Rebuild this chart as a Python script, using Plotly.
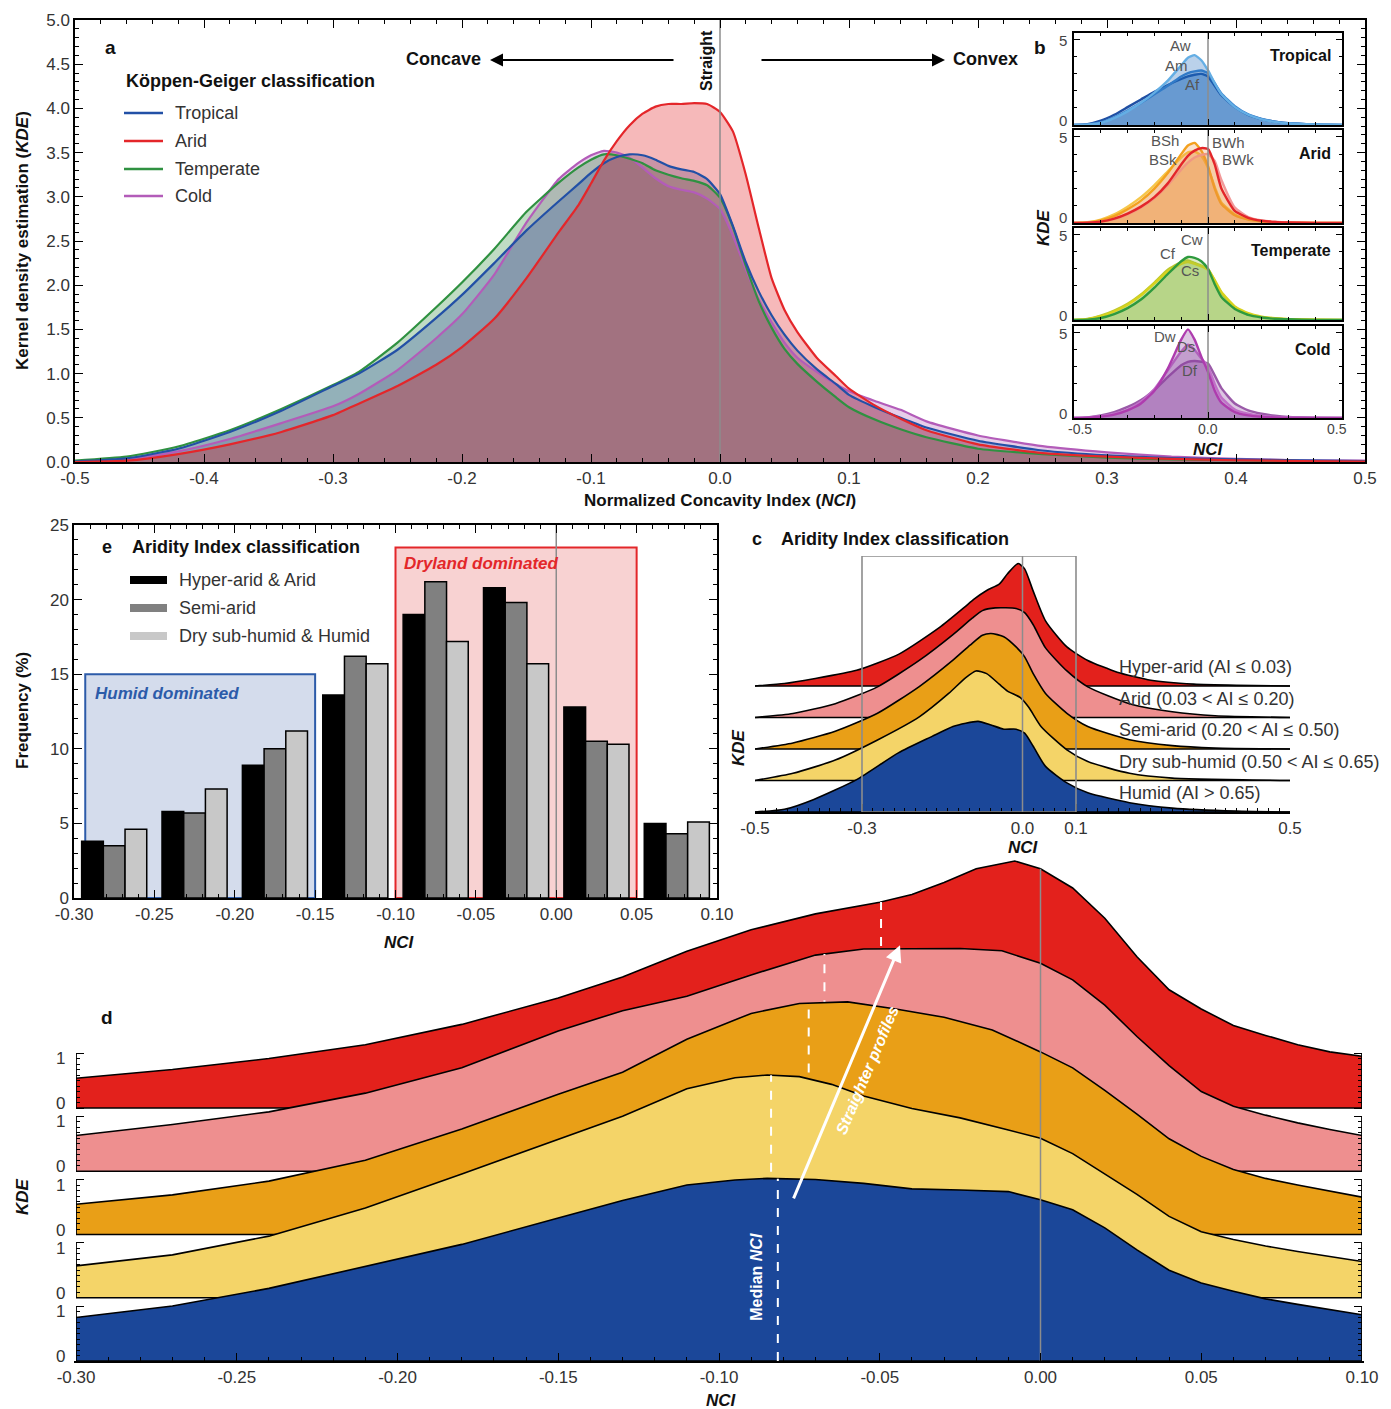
import numpy as np
import plotly.graph_objects as go

W, H = 1391, 1409
FONT = "Arial"
TXT = "#333333"
ZERO_GRAY = "#8c8c8c"


def fx(p):
    """horizontal pixel -> paper coordinate"""
    return p / W


def fy(p):
    """vertical pixel (from the top) -> paper coordinate"""
    return 1 - p / H


def rgba(rgb, a):
    return f"rgba({rgb[0]},{rgb[1]},{rgb[2]},{a})"


# ---------------- Panel a: KDE of NCI by Köppen-Geiger main class ----------------
nci_a = [-0.50, -0.46, -0.42, -0.38, -0.34, -0.30, -0.28, -0.25, -0.22, -0.20,
         -0.175, -0.15, -0.125, -0.11, -0.10, -0.09, -0.08, -0.07, -0.06, -0.05,
         -0.04, -0.03, -0.02, -0.01, 0.00, 0.01, 0.02, 0.03, 0.04, 0.05,
         0.06, 0.075, 0.09, 0.10, 0.12, 0.14, 0.16, 0.20, 0.25, 0.30,
         0.35, 0.40, 0.45, 0.50]
kde_tropical = [0.005, 0.04, 0.15, 0.34, 0.58, 0.86, 1.00, 1.27, 1.63, 1.89,
                2.25, 2.62, 2.95, 3.14, 3.27, 3.38, 3.45, 3.48, 3.47, 3.42,
                3.35, 3.31, 3.28, 3.20, 3.03, 2.67, 2.26, 1.93, 1.66, 1.44,
                1.26, 1.05, 0.88, 0.76, 0.62, 0.50, 0.39, 0.24, 0.13, 0.075,
                0.045, 0.03, 0.02, 0.01]
kde_arid = [0.0, 0.015, 0.09, 0.20, 0.34, 0.53, 0.66, 0.86, 1.10, 1.30,
            1.62, 2.08, 2.60, 2.90, 3.15, 3.41, 3.63, 3.81, 3.94, 4.02,
            4.05, 4.05, 4.06, 4.05, 3.96, 3.74, 3.25, 2.65, 2.08, 1.72,
            1.47, 1.18, 0.97, 0.83, 0.64, 0.49, 0.36, 0.20, 0.10, 0.06,
            0.035, 0.02, 0.01, 0.005]
kde_temperate = [0.015, 0.06, 0.175, 0.36, 0.60, 0.87, 1.02, 1.35, 1.75, 2.03,
                 2.41, 2.83, 3.16, 3.33, 3.42, 3.48, 3.47, 3.43, 3.38, 3.30,
                 3.25, 3.21, 3.18, 3.13, 2.99, 2.66, 2.22, 1.82, 1.52, 1.28,
                 1.11, 0.91, 0.73, 0.62, 0.48, 0.37, 0.28, 0.15, 0.09, 0.05,
                 0.03, 0.02, 0.01, 0.005]
kde_cold = [0.0, 0.03, 0.12, 0.26, 0.44, 0.63, 0.77, 1.04, 1.40, 1.67,
            2.12, 2.71, 3.20, 3.38, 3.47, 3.52, 3.50, 3.44, 3.33, 3.21,
            3.12, 3.08, 3.05, 2.98, 2.86, 2.56, 2.18, 1.84, 1.58, 1.35,
            1.18, 1.02, 0.88, 0.80, 0.69, 0.59, 0.46, 0.30, 0.18, 0.11,
            0.06, 0.035, 0.02, 0.015]

# ---------------- Panel b: KDE by Köppen-Geiger sub-class ----------------
nci_b = [-0.5, -0.45, -0.4, -0.35, -0.3, -0.25, -0.2, -0.15, -0.1, -0.075, -0.05,
         -0.025, 0.0, 0.025, 0.05, 0.1, 0.15, 0.2, 0.25, 0.3, 0.4, 0.5]
kde_af = [0.0, 0.05, 0.25, 0.6, 1.05, 1.5, 1.95, 2.35, 2.7, 2.85, 2.95, 3.0, 2.85, 2.3, 1.75, 1.05, 0.6, 0.35, 0.2, 0.1, 0.03, 0.01]
kde_am = [0.0, 0.03, 0.15, 0.45, 0.85, 1.3, 1.8, 2.3, 2.85, 3.05, 3.15, 3.2, 3.05, 2.45, 1.85, 1.1, 0.62, 0.36, 0.2, 0.1, 0.03, 0.01]
kde_aw = [0.0, 0.02, 0.12, 0.4, 0.8, 1.3, 1.9, 2.6, 3.5, 3.95, 4.1, 3.8, 3.2, 2.45, 1.8, 1.05, 0.6, 0.33, 0.18, 0.09, 0.03, 0.01]
kde_bsh = [0.0, 0.03, 0.15, 0.4, 0.8, 1.3, 2.0, 2.9, 4.0, 4.5, 4.65, 4.2, 3.3, 2.0, 1.1, 0.45, 0.2, 0.1, 0.05, 0.03, 0.01, 0.0]
kde_bsk = [0.0, 0.05, 0.2, 0.5, 0.95, 1.5, 2.2, 3.0, 3.8, 4.1, 4.15, 3.9, 3.2, 2.1, 1.2, 0.5, 0.22, 0.1, 0.05, 0.03, 0.01, 0.0]
kde_bwh = [0.0, 0.02, 0.08, 0.25, 0.55, 0.95, 1.5, 2.3, 3.4, 3.9, 4.2, 4.35, 4.3, 3.4, 2.0, 0.7, 0.3, 0.13, 0.06, 0.03, 0.01, 0.0]
kde_bwk = [0.0, 0.02, 0.08, 0.22, 0.5, 0.9, 1.45, 2.2, 3.1, 3.5, 3.8, 3.95, 4.0, 3.6, 2.5, 0.9, 0.35, 0.15, 0.07, 0.03, 0.01, 0.0]
kde_cw = [0.0, 0.02, 0.12, 0.35, 0.7, 1.2, 1.9, 2.7, 3.45, 3.7, 3.65, 3.45, 3.0, 2.1, 1.35, 0.65, 0.3, 0.15, 0.07, 0.04, 0.01, 0.0]
kde_cf = [0.0, 0.06, 0.25, 0.55, 0.95, 1.5, 2.2, 2.95, 3.4, 3.5, 3.35, 3.2, 3.0, 2.3, 1.6, 0.75, 0.35, 0.17, 0.09, 0.05, 0.02, 0.0]
kde_cs = [0.0, 0.05, 0.22, 0.5, 0.9, 1.45, 2.15, 2.85, 3.3, 3.4, 3.3, 3.15, 2.95, 2.35, 1.65, 0.8, 0.4, 0.2, 0.1, 0.05, 0.02, 0.0]
kde_dw = [0.0, 0.02, 0.08, 0.2, 0.45, 0.85, 1.6, 2.9, 4.6, 5.2, 4.6, 3.6, 2.7, 1.6, 0.9, 0.35, 0.15, 0.07, 0.03, 0.01, 0.0, 0.0]
kde_ds = [0.0, 0.03, 0.1, 0.25, 0.5, 0.95, 1.7, 2.8, 3.9, 4.3, 4.0, 3.5, 3.0, 2.0, 1.2, 0.5, 0.25, 0.12, 0.06, 0.03, 0.01, 0.0]
kde_df = [0.0, 0.04, 0.15, 0.35, 0.65, 1.05, 1.65, 2.4, 3.1, 3.3, 3.35, 3.3, 3.2, 2.5, 1.75, 0.85, 0.45, 0.25, 0.13, 0.06, 0.02, 0.01]

# ---------------- Panel e: NCI frequency by aridity group ----------------
nci_bins = [-0.275, -0.225, -0.175, -0.125, -0.075, -0.025, 0.025, 0.075]
freq_hyper_arid = [3.8, 5.8, 8.9, 13.6, 19.0, 20.8, 12.8, 5.0]
freq_semi_arid = [3.5, 5.7, 10.0, 16.2, 21.2, 19.8, 10.5, 4.3]
freq_humid = [4.6, 7.3, 11.2, 15.7, 17.2, 15.7, 10.3, 5.1]

# ---------------- Panel c: KDE by Aridity Index class ----------------
c_hyper_x = [-0.5, -0.445, -0.39, -0.31, -0.23, -0.155, -0.11, -0.09, -0.067, -0.043, -0.028,
             -0.008, 0.004, 0.02, 0.043, 0.083, 0.122, 0.177, 0.24, 0.32, 0.4, 0.5]
c_hyper_kde = [0.0, 0.08, 0.24, 0.52, 1.07, 1.95, 2.6, 2.9, 3.18, 3.4, 3.74,
               4.08, 3.9, 3.16, 2.17, 1.30, 0.85, 0.46, 0.19, 0.06, 0.02, 0.0]
c_arid_x = [-0.5, -0.429, -0.35, -0.271, -0.193, -0.13, -0.094, -0.075, -0.051, -0.012,
            0.004, 0.02, 0.043, 0.083, 0.122, 0.2, 0.28, 0.36, 0.5]
c_arid_kde = [0.0, 0.13, 0.46, 1.02, 1.9, 2.76, 3.31, 3.56, 3.65, 3.63,
              3.49, 3.09, 2.32, 1.55, 1.02, 0.46, 0.19, 0.055, 0.0]
c_semi_x = [-0.5, -0.429, -0.35, -0.271, -0.193, -0.13, -0.098, -0.075, -0.059, -0.035,
            -0.012, 0.004, 0.02, 0.043, 0.083, 0.122, 0.2, 0.28, 0.36, 0.5]
c_semi_kde = [0.0, 0.2, 0.59, 1.19, 2.08, 2.96, 3.46, 3.79, 3.85, 3.74,
              3.4, 3.07, 2.51, 1.85, 1.19, 0.75, 0.31, 0.11, 0.03, 0.0]
c_dry_x = [-0.5, -0.429, -0.35, -0.271, -0.193, -0.138, -0.106, -0.087, -0.067, -0.043,
           -0.028, -0.004, 0.012, 0.035, 0.083, 0.122, 0.2, 0.28, 0.5]
c_dry_kde = [0.0, 0.24, 0.68, 1.35, 2.12, 2.9, 3.43, 3.65, 3.56, 3.2,
             2.98, 2.76, 2.43, 1.79, 1.02, 0.63, 0.24, 0.08, 0.0]
c_humid_x = [-0.5, -0.445, -0.39, -0.31, -0.232, -0.169, -0.13, -0.106, -0.083, -0.059,
             -0.035, -0.012, 0.004, 0.02, 0.043, 0.083, 0.122, 0.2, 0.28, 0.4, 0.5]
c_humid_kde = [0.0, 0.09, 0.42, 1.08, 1.97, 2.52, 2.85, 2.96, 3.02, 2.9,
               2.76, 2.76, 2.63, 2.19, 1.52, 0.97, 0.64, 0.31, 0.13, 0.03, 0.0]

# ---------------- Panel d: close-up of the ridges, -0.30 to 0.10 ----------------
d_hyper_x = [-0.30, -0.27, -0.24, -0.21, -0.18, -0.15, -0.13, -0.11, -0.09, -0.07, -0.05, -0.04, -0.03,
             -0.02, -0.008, 0.0, 0.01, 0.02, 0.03, 0.04, 0.05, 0.06, 0.07, 0.08, 0.09, 0.10]
d_hyper_kde = [0.54, 0.70, 0.90, 1.15, 1.52, 2.0, 2.38, 2.85, 3.24, 3.53, 3.74, 3.88, 4.10,
               4.35, 4.49, 4.35, 4.0, 3.45, 2.75, 2.15, 1.80, 1.50, 1.32, 1.15, 1.02, 0.94]
d_arid_x = [-0.30, -0.27, -0.24, -0.21, -0.18, -0.15, -0.13, -0.11, -0.09, -0.07, -0.055, -0.04, -0.025,
            -0.012, 0.0, 0.01, 0.02, 0.03, 0.04, 0.05, 0.06, 0.07, 0.08, 0.09, 0.10]
d_arid_kde = [0.65, 0.85, 1.08, 1.42, 1.88, 2.55, 2.92, 3.18, 3.57, 3.93, 4.04, 4.05, 4.05,
              4.01, 3.78, 3.48, 3.02, 2.45, 1.92, 1.45, 1.18, 1.02, 0.88, 0.76, 0.65]
d_semi_x = [-0.30, -0.27, -0.24, -0.21, -0.18, -0.15, -0.13, -0.11, -0.09, -0.075, -0.06, -0.045, -0.03,
            -0.015, 0.0, 0.01, 0.02, 0.03, 0.04, 0.05, 0.06, 0.07, 0.08, 0.09, 0.10]
d_semi_kde = [0.55, 0.72, 0.97, 1.35, 1.92, 2.55, 2.95, 3.55, 4.02, 4.20, 4.23, 4.10, 3.95,
              3.72, 3.32, 3.03, 2.62, 2.19, 1.74, 1.42, 1.18, 1.02, 0.90, 0.79, 0.68]
d_dry_x = [-0.30, -0.27, -0.24, -0.21, -0.18, -0.15, -0.13, -0.11, -0.095, -0.085, -0.075, -0.065, -0.055,
           -0.04, -0.025, -0.01, 0.0, 0.01, 0.02, 0.03, 0.04, 0.05, 0.06, 0.07, 0.08, 0.09, 0.10]
d_dry_kde = [0.58, 0.78, 1.12, 1.63, 2.25, 2.88, 3.3, 3.8, 4.0, 4.05, 4.02, 3.88, 3.67,
             3.44, 3.27, 3.05, 2.9, 2.62, 2.25, 1.88, 1.48, 1.2, 1.06, 0.94, 0.84, 0.75, 0.66]
d_humid_x = [-0.30, -0.27, -0.24, -0.21, -0.18, -0.15, -0.13, -0.11, -0.095, -0.085, -0.07, -0.055, -0.04,
             -0.025, -0.01, 0.0, 0.01, 0.02, 0.03, 0.04, 0.05, 0.06, 0.07, 0.08, 0.09, 0.10]
d_humid_kde = [0.79, 1.0, 1.32, 1.72, 2.12, 2.6, 2.92, 3.2, 3.29, 3.32, 3.3, 3.23, 3.13,
               3.11, 3.08, 2.93, 2.75, 2.42, 2.02, 1.65, 1.42, 1.27, 1.13, 1.03, 0.93, 0.84]
median_nci = [-0.0496, -0.0672, -0.0721, -0.0838, -0.0817]   # hyper-arid ... humid

# ---------------- colours ----------------
AI_COLORS = ["#e3211c", "#ee8f8f", "#e99f17", "#f4d468", "#1b4799"]
AI_LABELS = ["Hyper-arid (AI ≤ 0.03)", "Arid (0.03 &lt; AI ≤ 0.20)", "Semi-arid (0.20 &lt; AI ≤ 0.50)",
             "Dry sub-humid (0.50 &lt; AI ≤ 0.65)", "Humid (AI &gt; 0.65)"]

fig = go.Figure()

# ================= Panel a =================
panel_a = [  # fill stacking order
    ("Cold", kde_cold, (176, 92, 181), "#b35cb9"),
    ("Temperate", kde_temperate, (46, 139, 58), "#2f9141"),
    ("Tropical", kde_tropical, (42, 78, 160), "#2250a6"),
    ("Arid", kde_arid, (226, 24, 28), "#e4262a"),
]
for name, kde, rgb, _ in panel_a:
    fig.add_trace(go.Scatter(x=nci_a, y=kde, xaxis="x", yaxis="y", mode="none", fill="tozeroy",
                             fillcolor=rgba(rgb, 0.3), line=dict(shape="spline", smoothing=0.5),
                             hoverinfo="skip"))
for name, kde, rgb, lc in panel_a:
    fig.add_trace(go.Scatter(x=nci_a, y=kde, xaxis="x", yaxis="y", mode="lines", name=name,
                             line=dict(color=lc, width=2.2, shape="spline", smoothing=0.5)))
fig.add_trace(go.Scatter(x=[0, 0], y=[0, 5], xaxis="x", yaxis="y", mode="lines",
                         line=dict(color=ZERO_GRAY, width=1.5), hoverinfo="skip"))

# ================= Panel b (insets) =================
insets = [
    ("Tropical", [("Af", kde_af, "#1f4fa3"), ("Am", kde_am, "#3c84cf"), ("Aw", kde_aw, "#64aee4")],
     (28, 103, 186), 0.3),
    ("Arid", [("BSk", kde_bsk, "#f6c74a"), ("BSh", kde_bsh, "#f3a11f"), ("BWk", kde_bwk, "#f29a9a"),
              ("BWh", kde_bwh, "#e3262a")], (236, 142, 61), 0.25),
    ("Temperate", [("Cf", kde_cf, "#bcc82e"), ("Cs", kde_cs, "#d8d21e"), ("Cw", kde_cw, "#2e9a3e")],
     (147, 193, 77), 0.3),
    ("Cold", [("Df", kde_df, "#9a5aa8"), ("Ds", kde_ds, "#c070c8"), ("Dw", kde_dw, "#ae3cae")],
     (138, 66, 159), 0.3),
]
inset_label_pos = {
    "Aw": (-0.104, 4.69), "Am": (-0.116, 3.52), "Af": (-0.056, 2.35),
    "BSh": (-0.16, 4.8), "BSk": (-0.168, 3.7), "BWh": (0.075, 4.7), "BWk": (0.112, 3.7),
    "Cw": (-0.06, 4.7), "Cf": (-0.15, 3.93), "Cs": (-0.067, 2.93),
    "Dw": (-0.16, 4.8), "Ds": (-0.082, 4.2), "Df": (-0.067, 2.76),
}
INSET_TOP = 5.4
for k, (title, subs, frgb, fa) in enumerate(insets):
    xa, ya = f"x{k + 2}", f"y{k + 2}"
    for code, kde, lc in subs:
        fig.add_trace(go.Scatter(x=nci_b, y=kde, xaxis=xa, yaxis=ya, mode="lines", name=code,
                                 fill="tozeroy", fillcolor=rgba(frgb, fa),
                                 line=dict(color=lc, width=2.4, shape="spline", smoothing=0.5)))
    fig.add_trace(go.Scatter(x=[0, 0], y=[0, INSET_TOP], xaxis=xa, yaxis=ya, mode="lines",
                             line=dict(color=ZERO_GRAY, width=1.5), hoverinfo="skip"))

# ================= Panel e =================
for name, vals, col in [("Hyper-arid & Arid", freq_hyper_arid, "#000000"),
                        ("Semi-arid", freq_semi_arid, "#808080"),
                        ("Dry sub-humid & Humid", freq_humid, "#c8c8c8")]:
    fig.add_trace(go.Bar(x=nci_bins, y=vals, xaxis="x6", yaxis="y6", name=name,
                         marker=dict(color=col, line=dict(color="black", width=1.5))))

# ================= Panel c (ridgeline) =================
ridges_c = [(c_hyper_x, c_hyper_kde), (c_arid_x, c_arid_kde), (c_semi_x, c_semi_kde),
            (c_dry_x, c_dry_kde), (c_humid_x, c_humid_kde)]
STEP_C = 1.05
TOP_C = 8.53
for i, (xs, hs) in enumerate(ridges_c):
    off = (len(ridges_c) - 1 - i) * STEP_C
    fig.add_trace(go.Scatter(x=[-0.5, 0.5], y=[off, off], xaxis="x7", yaxis="y7", mode="lines",
                             line=dict(color="black", width=1.6), hoverinfo="skip"))
    fig.add_trace(go.Scatter(x=xs, y=np.array(hs) + off, xaxis="x7", yaxis="y7", mode="lines",
                             fill="tonexty", fillcolor=AI_COLORS[i],
                             line=dict(color="black", width=1.6, shape="spline", smoothing=0.6)))

# ================= Panel d (close-up ridgeline) =================
ridges_d = [(d_hyper_x, d_hyper_kde), (d_arid_x, d_arid_kde), (d_semi_x, d_semi_kde),
            (d_dry_x, d_dry_kde), (d_humid_x, d_humid_kde)]
STEP_D = 1.15
TOP_D = 9.3
offsets_d = [(len(ridges_d) - 1 - i) * STEP_D for i in range(len(ridges_d))]
for i, (xs, hs) in enumerate(ridges_d):
    off = offsets_d[i]
    fig.add_trace(go.Scatter(x=[-0.30, 0.10], y=[off, off], xaxis="x8", yaxis="y8", mode="lines",
                             line=dict(color="black", width=1.6), hoverinfo="skip"))
    fig.add_trace(go.Scatter(x=xs, y=np.array(hs) + off, xaxis="x8", yaxis="y8", mode="lines",
                             fill="tonexty", fillcolor=AI_COLORS[i],
                             line=dict(color="black", width=1.6)))
    m = median_nci[i]
    fig.add_trace(go.Scatter(x=[m, m], y=[off, off + float(np.interp(m, xs, hs))], xaxis="x8", yaxis="y8",
                             mode="lines", line=dict(color="white", width=2, dash="dash"), hoverinfo="skip"))
zero_top_d = offsets_d[0] + float(np.interp(0.0, d_hyper_x, d_hyper_kde))
fig.add_trace(go.Scatter(x=[0, 0], y=[0, zero_top_d], xaxis="x8", yaxis="y8", mode="lines",
                         line=dict(color=ZERO_GRAY, width=1.5), hoverinfo="skip"))


# ================= axes =================
def axis(**kw):
    base = dict(showgrid=False, zeroline=False, showline=True, linecolor="black", linewidth=1.5,
                ticks="inside", tickcolor="black", tickwidth=1.3, ticklen=8, automargin=False,
                tickfont=dict(family=FONT, size=17, color=TXT))
    base.update(kw)
    return base


def tick_array(vals, fmt):
    return dict(tickmode="array", tickvals=vals, ticktext=[fmt.format(v) for v in vals])


def minor(dtick, tick0=0.0, length=4):
    return dict(dtick=dtick, tick0=tick0, ticks="inside", ticklen=length, tickcolor="black", tickwidth=1.1)


layout_axes = {}
# panel a
layout_axes["xaxis"] = axis(domain=[fx(75), fx(1365)], range=[-0.5, 0.5], anchor="y", mirror="ticks",
                            minor=minor(0.02), **tick_array([i / 10 for i in range(-5, 6)], "{:.1f}"))
layout_axes["yaxis"] = axis(domain=[fy(462), fy(20)], range=[0, 5], anchor="x", mirror="ticks",
                            minor=minor(0.1), **tick_array([i / 2 for i in range(0, 11)], "{:.1f}"))
# panel b insets (tick labels are placed as annotations below)
inset_rows = [(33, 125), (130, 223), (228, 320), (326, 418)]
for k, (top, bot) in enumerate(inset_rows):
    n = k + 2
    layout_axes[f"xaxis{n}"] = axis(domain=[fx(1074), fx(1342)], range=[-0.5, 0.5], anchor=f"y{n}",
                                    mirror="ticks", linewidth=2, ticklen=6, minor=minor(0.1, length=3),
                                    showticklabels=False, tickmode="array", tickvals=[-0.5, 0.0, 0.5])
    layout_axes[f"yaxis{n}"] = axis(domain=[fy(bot), fy(top)], range=[0, INSET_TOP], anchor=f"x{n}",
                                    mirror="ticks", linewidth=2, ticklen=6, minor=minor(1, length=3),
                                    showticklabels=False, tickmode="array", tickvals=[0, 5])
# panel e
layout_axes["xaxis6"] = axis(domain=[fx(74), fx(717)], range=[-0.30, 0.10], anchor="y6", mirror="ticks",
                             minor=minor(0.01), **tick_array([i / 100 for i in range(-30, 11, 5)], "{:.2f}"))
layout_axes["yaxis6"] = axis(domain=[fy(898), fy(525)], range=[0, 25], anchor="x6", mirror="ticks",
                             minor=minor(1), **tick_array(list(range(0, 26, 5)), "{:d}"))
# panel c
layout_axes["xaxis7"] = axis(domain=[fx(755), fx(1290)], range=[-0.5, 0.5], anchor="y7", linewidth=2,
                             minor=minor(0.02), **tick_array([-0.5, -0.3, 0.0, 0.1, 0.5], "{:.1f}"))
layout_axes["yaxis7"] = dict(domain=[fy(812), fy(556)], range=[0, TOP_C], anchor="x7", visible=False,
                             automargin=False)
# panel d
d_major = [v for off in offsets_d for v in (off, off + 1)]
d_minor = [off + j / 10 for off in offsets_d for j in range(1, 10)]
layout_axes["xaxis8"] = axis(domain=[fx(76), fx(1362)], range=[-0.30, 0.10], anchor="y8", linewidth=2,
                             minor=minor(0.01), **tick_array([i / 100 for i in range(-30, 11, 5)], "{:.2f}"))
layout_axes["yaxis8"] = axis(domain=[fy(1361), fy(849.5)], range=[0, TOP_D], anchor="x8",
                             linecolor="rgba(0,0,0,0)", mirror="ticks", showticklabels=False,
                             tickmode="array", tickvals=d_major,
                             minor=dict(tickmode="array", tickvals=d_minor, ticks="inside", ticklen=4,
                                        tickcolor="black", tickwidth=1.1))

# ================= shapes =================
shapes = []
# panel a legend swatches
for (name, kde, rgb, lc), yy in zip([panel_a[2], panel_a[3], panel_a[1], panel_a[0]], [113, 141, 169, 196]):
    shapes.append(dict(type="line", xref="paper", yref="paper", x0=fx(124), x1=fx(163), y0=fy(yy), y1=fy(yy),
                       line=dict(color=lc, width=2.5)))
# panel e boxes, zero line and legend swatches
shapes.append(dict(type="rect", xref="x6", yref="y6", x0=-0.293, x1=-0.15, y0=0, y1=15, layer="below",
                   fillcolor="#d4dcec", line=dict(color="#2c5ba9", width=2)))
shapes.append(dict(type="rect", xref="x6", yref="y6", x0=-0.10, x1=0.05, y0=0, y1=23.5, layer="below",
                   fillcolor="#f8d2d2", line=dict(color="#e3272a", width=2)))
shapes.append(dict(type="line", xref="x6", yref="y6", x0=0, x1=0, y0=0, y1=25, layer="below",
                   line=dict(color=ZERO_GRAY, width=1.5)))
for col, yy in zip(["#000000", "#808080", "#c8c8c8"], [580, 608, 636]):
    shapes.append(dict(type="rect", xref="paper", yref="paper", x0=fx(130), x1=fx(167), y0=fy(yy + 4),
                       y1=fy(yy - 4), fillcolor=col, line=dict(width=0)))
# panel c frame box and straight line
shapes.append(dict(type="rect", xref="x7", yref="y7", x0=-0.3, x1=0.1, y0=0, y1=TOP_C,
                   line=dict(color=ZERO_GRAY, width=1.6), layer="above"))
shapes.append(dict(type="line", xref="x7", yref="y7", x0=0, x1=0, y0=0, y1=TOP_C,
                   line=dict(color=ZERO_GRAY, width=1.5), layer="above"))
# panel d: short per-ridge axis segments (0..1) on both sides
for off in offsets_d:
    for xe in (-0.30, 0.10):
        shapes.append(dict(type="line", xref="x8", yref="y8", x0=xe, x1=xe, y0=off, y1=off + 1,
                           line=dict(color="black", width=1.8), layer="above"))

# ================= annotations =================
annotations = []


def label(text, x, y, size=17, color=TXT, xanchor="center", yanchor="middle", angle=0,
          xref="paper", yref="paper", xshift=0, yshift=0):
    annotations.append(dict(text=text, x=x, y=y, xref=xref, yref=yref, showarrow=False,
                            xanchor=xanchor, yanchor=yanchor, textangle=angle,
                            xshift=xshift, yshift=yshift,
                            font=dict(family=FONT, size=size, color=color)))


BLK = "#111111"
# panel a
label("<b>a</b>", fx(110), fy(47), 19, BLK)
label("<b>Köppen-Geiger classification</b>", fx(124), fy(81), 18, BLK, xanchor="left")
for name, yy in zip(["Tropical", "Arid", "Temperate", "Cold"], [113, 141, 169, 196]):
    label(name, fx(173), fy(yy), 18, TXT, xanchor="left")
label("<b>Concave</b>", fx(443), fy(59), 18, BLK)
label("<b>Convex</b>", fx(985), fy(59), 18, BLK)
label("<b>Straight</b>", fx(706), fy(61), 16, BLK, angle=-90)
label("<b>Kernel density estimation (<i>KDE</i>)</b>", fx(22), fy(241), 17, BLK, angle=-90)
label("<b>Normalized Concavity Index (<i>NCI</i>)</b>", fx(720), fy(501), 17, BLK)
for head_px, tail_dx in [(490, 185), (945, -185)]:
    annotations.append(dict(text="", x=fx(head_px), y=fy(60), xref="paper", yref="paper", showarrow=True,
                            ax=tail_dx, ay=0, arrowhead=2, arrowsize=1.3, arrowwidth=2, arrowcolor="black",
                            standoff=0))
# panel b
label("<b>b</b>", fx(1040), fy(48), 19, BLK)
label("<b><i>KDE</i></b>", fx(1043), fy(228), 17, BLK, angle=-90)
label("<b><i>NCI</i></b>", fx(1208), fy(449), 17, BLK)
for k, ((title, subs, _, _), (top, bot)) in enumerate(zip(insets, inset_rows)):
    xa, ya = f"x{k + 2}", f"y{k + 2}"
    label(f"<b>{title}</b>", fx(1333), fy(top + 23), 16, BLK, xanchor="right")
    for code, _, _ in subs:
        px_, py_ = inset_label_pos[code]
        label(code, px_, py_, 15, "#555555", xref=xa, yref=ya)
    label("5", -0.5, 5, 15, "#444444", xanchor="right", xref=xa, yref=ya, xshift=-5, yshift=-1)
    label("0", -0.5, 0, 15, "#444444", xanchor="right", xref=xa, yref=ya, xshift=-5, yshift=5)
for v, sh in [(-0.5, 6), (0.0, 0), (0.5, -5)]:
    label(f"{v:.1f}", v, 0, 14, "#444444", yanchor="top", xref="x5", yref="y5", xshift=sh, yshift=-1)
# panel e
label("<b>e</b>", fx(107), fy(547), 18, BLK)
label("<b>Aridity Index classification</b>", fx(130), fy(547), 18, BLK, xanchor="left")
for name, yy in zip(["Hyper-arid & Arid", "Semi-arid", "Dry sub-humid & Humid"], [580, 608, 636]):
    label(name.replace("&", "&amp;"), fx(177), fy(yy), 18, TXT, xanchor="left")
label("<b><i>Humid dominated</i></b>", fx(93), fy(693), 17, "#2c5ba9", xanchor="left")
label("<b><i>Dryland dominated</i></b>", fx(402), fy(563), 17, "#e3272a", xanchor="left")
label("<b>Frequency (%)</b>", fx(22), fy(711), 17, BLK, angle=-90)
label("<b><i>NCI</i></b>", fx(399), fy(942), 17, BLK)
# panel c
label("<b>c</b>", fx(757), fy(539), 18, BLK)
label("<b>Aridity Index classification</b>", fx(779), fy(539), 18, BLK, xanchor="left")
for i, text in enumerate(AI_LABELS):
    off = (len(AI_LABELS) - 1 - i) * STEP_C
    label(text, 0.177, off + 0.62, 18, TXT, xanchor="left", xref="x7", yref="y7")
label("<b><i>KDE</i></b>", fx(738), fy(748), 17, BLK, angle=-90)
label("<b><i>NCI</i></b>", fx(1023), fy(848), 17, BLK)
# panel d
label("<b>d</b>", fx(107), fy(1018), 19, BLK)
for off in offsets_d:
    label("1", -0.3, off + 0.9, 17, TXT, xanchor="right", xref="x8", yref="y8", xshift=-9)
    label("0", -0.3, off + 0.08, 17, TXT, xanchor="right", xref="x8", yref="y8", xshift=-9)
label("<b><i>KDE</i></b>", fx(22), fy(1197), 17, BLK, angle=-90)
label("<b><i>NCI</i></b>", fx(721), fy(1400), 17, BLK)
label("<b>Median <i>NCI</i></b>", -0.0882, 1.53, 16, "white", angle=-90, xref="x8", yref="y8")
label("<b><i>Straighter profiles</i></b>", -0.054, 5.29, 16, "white", angle=-67, xref="x8", yref="y8")
annotations.append(dict(text="", x=-0.0437, y=7.56, xref="x8", yref="y8", ax=-0.077, ay=2.93,
                        axref="x8", ayref="y8", showarrow=True, arrowhead=2, arrowsize=1.1,
                        arrowwidth=3, arrowcolor="white", standoff=0))

fig.update_layout(
    template="none",
    width=W, height=H, margin=dict(l=0, r=0, t=0, b=0, pad=0, autoexpand=False),
    paper_bgcolor="white", plot_bgcolor="rgba(0,0,0,0)",
    showlegend=False, barmode="group", bargap=0.19, bargroupgap=0,
    font=dict(family=FONT, size=16, color=TXT),
    shapes=shapes, annotations=annotations,
    **layout_axes,
)

fig.write_html("out.html", post_script="document.body.style.margin='0';")
